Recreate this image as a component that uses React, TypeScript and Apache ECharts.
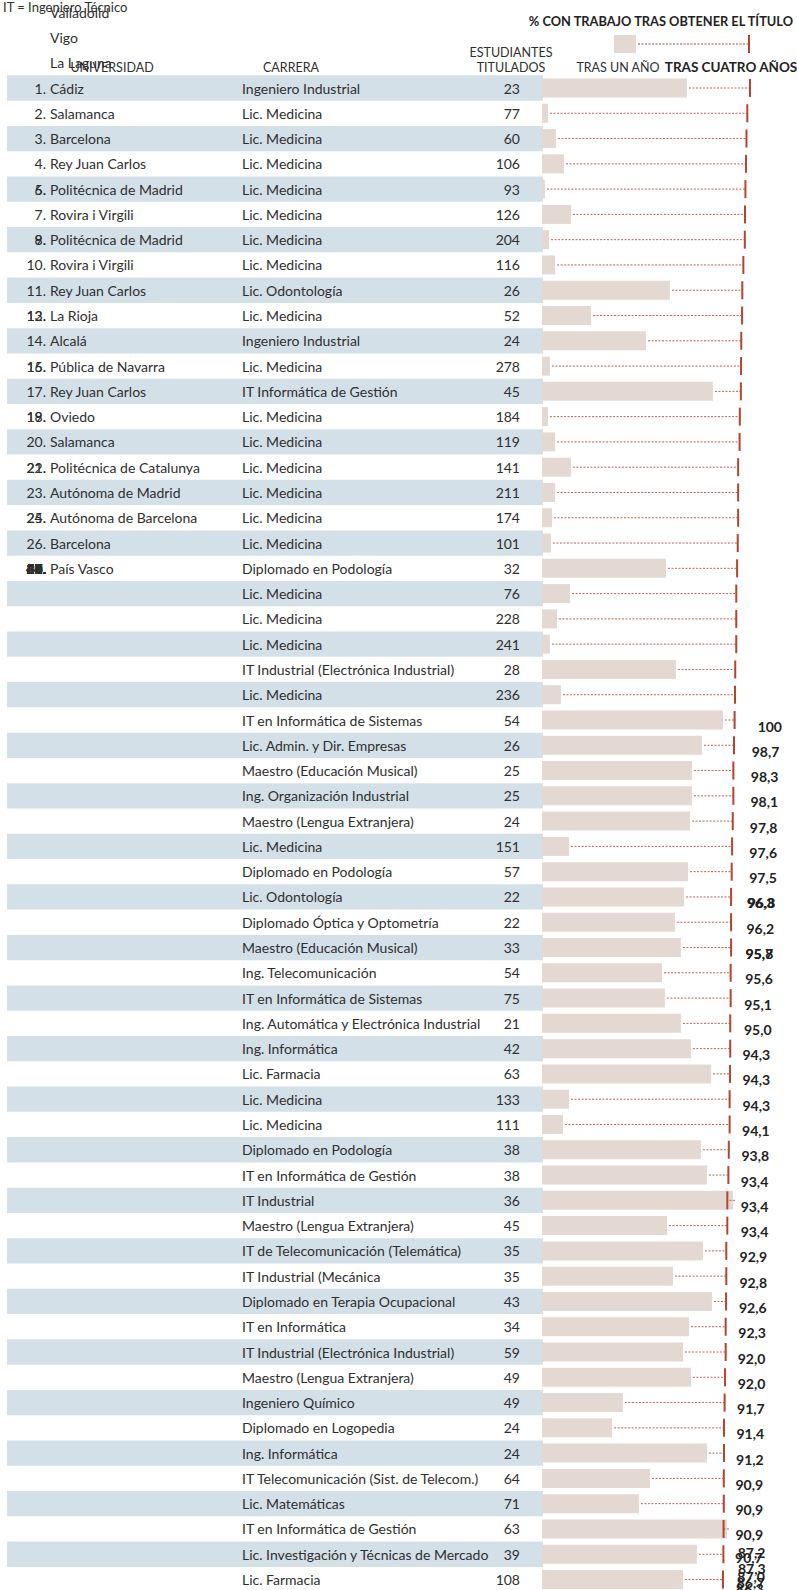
import React, { useEffect, useRef } from 'react';
import * as echarts from 'echarts';

// ---------- DATA ----------
const universities = [
  'Cádiz', 'Salamanca', 'Barcelona', 'Rey Juan Carlos', 'Politécnica de Madrid',
  'Rovira i Virgili', 'Politécnica de Madrid', 'Rovira i Virgili', 'Rey Juan Carlos', 'La Rioja',
  'Alcalá', 'Pública de Navarra', 'Rey Juan Carlos', 'Oviedo', 'Salamanca',
  'Politécnica de Catalunya', 'Autónoma de Madrid', 'Autónoma de Barcelona', 'Barcelona', 'País Vasco',
];
const exitingUniversities = ['Valladolid', 'Vigo', 'La Laguna'];

const restRanks: number[] = [];
for (let n = 27; n <= 60; n++) restRanks.push(n);
const rankGroups: number[][] = [
  [1], [2], [3], [4], [5, 6], [7], [8, 9], [10], [11], [12, 13],
  [14], [15, 16], [17], [18, 19], [20], [21, 22], [23], [24, 25], [26], restRanks,
];

const careers = [
  'Ingeniero Industrial', 'Lic. Medicina', 'Lic. Medicina', 'Lic. Medicina', 'Lic. Medicina',
  'Lic. Medicina', 'Lic. Medicina', 'Lic. Medicina', 'Lic. Odontología', 'Lic. Medicina',
  'Ingeniero Industrial', 'Lic. Medicina', 'IT Informática de Gestión', 'Lic. Medicina', 'Lic. Medicina',
  'Lic. Medicina', 'Lic. Medicina', 'Lic. Medicina', 'Lic. Medicina', 'Diplomado en Podología',
  'Lic. Medicina', 'Lic. Medicina', 'Lic. Medicina', 'IT Industrial (Electrónica Industrial)', 'Lic. Medicina',
  'IT en Informática de Sistemas', 'Lic. Admin. y Dir. Empresas', 'Maestro (Educación Musical)', 'Ing. Organización Industrial', 'Maestro (Lengua Extranjera)',
  'Lic. Medicina', 'Diplomado en Podología', 'Lic. Odontología', 'Diplomado Óptica y Optometría', 'Maestro (Educación Musical)',
  'Ing. Telecomunicación', 'IT en Informática de Sistemas', 'Ing. Automática y Electrónica Industrial', 'Ing. Informática', 'Lic. Farmacia',
  'Lic. Medicina', 'Lic. Medicina', 'Diplomado en Podología', 'IT en Informática de Gestión', 'IT Industrial',
  'Maestro (Lengua Extranjera)', 'IT de Telecomunicación (Telemática)', 'IT Industrial (Mecánica', 'Diplomado en Terapia Ocupacional', 'IT en Informática',
  'IT Industrial (Electrónica Industrial)', 'Maestro (Lengua Extranjera)', 'Ingeniero Químico', 'Diplomado en Logopedia', 'Ing. Informática',
  'IT Telecomunicación (Sist. de Telecom.)', 'Lic. Matemáticas', 'IT en Informática de Gestión', 'Lic. Investigación y Técnicas de Mercado', 'Lic. Farmacia',
];

const graduates = [
  23, 77, 60, 106, 93, 126, 204, 116, 26, 52,
  24, 278, 45, 184, 119, 141, 211, 174, 101, 32,
  76, 228, 241, 28, 236, 54, 26, 25, 25, 24,
  151, 57, 22, 22, 33, 54, 75, 21, 42, 63,
  133, 111, 38, 38, 36, 45, 35, 35, 43, 34,
  59, 49, 49, 24, 24, 64, 71, 63, 39, 108,
];

// % employed one year after graduating
const oneYear = [
  69.7, 2.9, 6.7, 10.6, 1.4, 13.9, 3.4, 6.3, 61.5, 23.6,
  50.0, 3.8, 82.2, 2.9, 6.3, 13.9, 6.3, 4.8, 4.3, 59.6,
  13.5, 7.2, 3.8, 64.4, 9.1, 87.0, 76.9, 72.1, 72.1, 71.2,
  13.0, 70.2, 68.3, 63.9, 66.8, 57.7, 59.1, 66.8, 71.6, 81.3,
  13.0, 10.1, 76.4, 79.3, 91.8, 60.1, 77.4, 63.0, 81.7, 70.7,
  67.8, 71.6, 38.9, 33.7, 79.3, 51.9, 46.6, 88.9, 74.5, 67.8,
];

// % employed four years after graduating
const fourYear = [
  100, 98.7, 98.3, 98.1, 97.8, 97.6, 97.5, 96.8, 96.3, 96.2,
  95.8, 95.7, 95.6, 95.1, 95.0, 94.3, 94.3, 94.3, 94.1, 93.8,
  93.4, 93.4, 93.4, 92.9, 92.8, 92.6, 92.3, 92.0, 92.0, 91.7,
  91.4, 91.2, 90.9, 90.9, 90.9, 90.7, 90.7, 90.5, 90.5, 90.4,
  90.2, 90.2, 89.8, 89.6, 89.1, 89.1, 88.6, 88.6, 88.5, 88.3,
  88.3, 88.0, 87.8, 87.5, 87.5, 87.4, 87.4, 87.3, 87.2, 87.0,
];

// value labels: how many of the four-year values are labelled, and the row slot each one sits in
const labelCount = 36;
const labelSlots = [
  25, 26, 27, 28, 29, 30, 31, 32, 32, 33,
  34, 34, 35, 36, 37, 38, 39, 40, 41, 42,
  43, 44, 45, 46, 47, 48, 49, 50, 51, 52,
  53, 54, 55, 56, 57, 57.9,
];
const extraLabels = [87.2, 87.3, 87.0, 86.7, 86.3];
const extraSlots = [57.68, 58.33, 58.63, 58.88, 59.12];

// ---------- STYLE ----------
const ROW_H = 25.28;
const GRID_TOP = 75.36;
const FONT = 'Lato, "Noto Sans", sans-serif';
const TEXT = '#2f2f2f';
const DARK = '#222222';
const BAND = '#d4e0e8';
const BAR = '#e4d8d3';
const RED = '#b3442d';

const fmt = (v: number) => (v === 100 ? '100' : v.toFixed(1).replace('.', ','));

function txt(x: number, y: number, text: string, align: string, font: string, fill = TEXT) {
  return {
    type: 'text',
    x,
    y,
    style: {
      text,
      fill,
      font,
      align,
      verticalAlign: 'middle',
      textAlign: align,
      textVerticalAlign: 'middle',
    },
  };
}

export default function App() {
  const ref = useRef<HTMLDivElement>(null);

  useEffect(() => {
    const chart = echarts.init(ref.current!, null, { renderer: 'svg' });
    const rows = careers.map((_, i) => i);
    const fBody = `14px ${FONT}`;
    const fHead = `12.5px ${FONT}`;
    const fLabel = `bold 14px ${FONT}`;

    const option: any = {
      animation: false,
      grid: { left: 542, right: 47, top: GRID_TOP, bottom: 0 },
      xAxis: { type: 'value', min: 0, max: 100, show: false },
      yAxis: {
        type: 'value',
        min: -0.5,
        max: -0.5 + (1590 - GRID_TOP) / ROW_H,
        inverse: true,
        show: false,
      },
      series: [
        {
          type: 'custom',
          name: 'bands',
          clip: false,
          encode: { x: 0, y: 1 },
          data: rows.filter((i) => i % 2 === 0).map((i) => [0, i]),
          renderItem: (_p: any, api: any) => {
            const row = api.value(1);
            const top = api.coord([0, row - 0.5]);
            const bottom = api.coord([0, row + 0.5]);
            return {
              type: 'rect',
              shape: { x: 7, y: top[1], width: top[0] + 1 - 7, height: bottom[1] - top[1] },
              style: { fill: BAND },
            };
          },
        },
        {
          type: 'custom',
          name: 'tras un año',
          clip: false,
          encode: { x: 0, y: 1 },
          data: rows.map((i) => [oneYear[i], i]),
          renderItem: (_p: any, api: any) => {
            const row = api.value(1);
            const a = api.coord([0, row]);
            const b = api.coord([api.value(0), row]);
            return {
              type: 'rect',
              shape: { x: a[0], y: a[1] - 9.5, width: b[0] - a[0], height: 19 },
              style: { fill: BAR },
            };
          },
        },
        {
          type: 'custom',
          name: 'tras cuatro años',
          clip: false,
          encode: { x: [0, 1], y: 2 },
          data: rows.map((i) => [oneYear[i], fourYear[i], i]),
          renderItem: (_p: any, api: any) => {
            const row = api.value(2);
            const a = api.coord([api.value(0), row]);
            const b = api.coord([api.value(1), row]);
            return {
              type: 'group',
              children: [
                {
                  type: 'line',
                  shape: { x1: a[0] + 2, y1: a[1], x2: b[0], y2: b[1] },
                  style: { stroke: RED, lineWidth: 1, lineDash: [2, 1.5], opacity: 0.85 },
                },
                {
                  type: 'rect',
                  shape: { x: b[0] - 1, y: b[1] - 9, width: 2, height: 18 },
                  style: { fill: RED },
                },
              ],
            };
          },
        },
        {
          type: 'custom',
          name: 'rows',
          clip: false,
          encode: { x: 0, y: 1 },
          data: rows.map((i) => [0, i]),
          renderItem: (_p: any, api: any) => {
            const i = api.value(1);
            const y = api.coord([0, i])[1];
            const children: any[] = [
              txt(242, y, careers[i], 'left', fBody),
              txt(520, y, String(graduates[i]), 'right', fBody),
            ];
            if (i < universities.length) {
              children.push(txt(50, y, universities[i], 'left', fBody));
              rankGroups[i].forEach((n) => children.push(txt(46, y, `${n}.`, 'right', fBody)));
            }
            return { type: 'group', children };
          },
        },
        {
          type: 'custom',
          name: 'exiting',
          clip: false,
          encode: { x: 0, y: 1 },
          data: exitingUniversities.map((_, k) => [0, k - exitingUniversities.length]),
          renderItem: (p: any, api: any) => {
            const y = api.coord([0, api.value(1)])[1];
            return txt(50, y, exitingUniversities[p.dataIndex], 'left', fBody);
          },
        },
        {
          type: 'custom',
          name: 'labels',
          clip: false,
          encode: { x: 0, y: 1 },
          data: fourYear.slice(0, labelCount).map((v, j) => [v, labelSlots[j]]),
          renderItem: (_p: any, api: any) => {
            const v = api.value(0);
            const p = api.coord([v, api.value(1)]);
            return txt(p[0] + 32, p[1] + 6, fmt(v), 'right', fLabel, DARK);
          },
        },
        {
          type: 'custom',
          name: 'labels2',
          clip: false,
          encode: { x: 0, y: 1 },
          data: extraLabels.map((v, j) => [v, extraSlots[j]]),
          renderItem: (_p: any, api: any) => {
            const v = api.value(0);
            const p = api.coord([v, api.value(1)]);
            return txt(p[0] + 42, p[1] + 6, fmt(v), 'right', fLabel, DARK);
          },
        },
      ],
      graphic: [
        txt(3, 7, 'IT = Ingeniero Técnico', 'left', `13px ${FONT}`),
        txt(793, 21, '% CON TRABAJO TRAS OBTENER EL TÍTULO', 'right', `bold 12.8px ${FONT}`, DARK),
        { type: 'rect', shape: { x: 614, y: 35, width: 22, height: 18 }, style: { fill: BAR } },
        {
          type: 'line',
          shape: { x1: 638, y1: 44, x2: 748, y2: 44 },
          style: { stroke: RED, lineWidth: 1, lineDash: [2, 1.5] },
        },
        { type: 'rect', shape: { x: 748, y: 35, width: 2, height: 18 }, style: { fill: RED } },
        txt(511, 52, 'ESTUDIANTES', 'center', fHead),
        txt(511, 67, 'TITULADOS', 'center', fHead),
        txt(112, 67, 'UNIVERSIDAD', 'center', fHead),
        txt(291, 67, 'CARRERA', 'center', fHead),
        txt(618, 67, 'TRAS UN AÑO', 'center', fHead),
        txt(731, 67, 'TRAS CUATRO AÑOS', 'center', `bold 13.5px ${FONT}`, DARK),
      ],
    };

    chart.setOption(option);
    return () => chart.dispose();
  }, []);

  return (
    <div
      ref={ref}
      style={{ position: 'absolute', left: 0, top: 0, width: 797, height: 1590 }}
    />
  );
}
